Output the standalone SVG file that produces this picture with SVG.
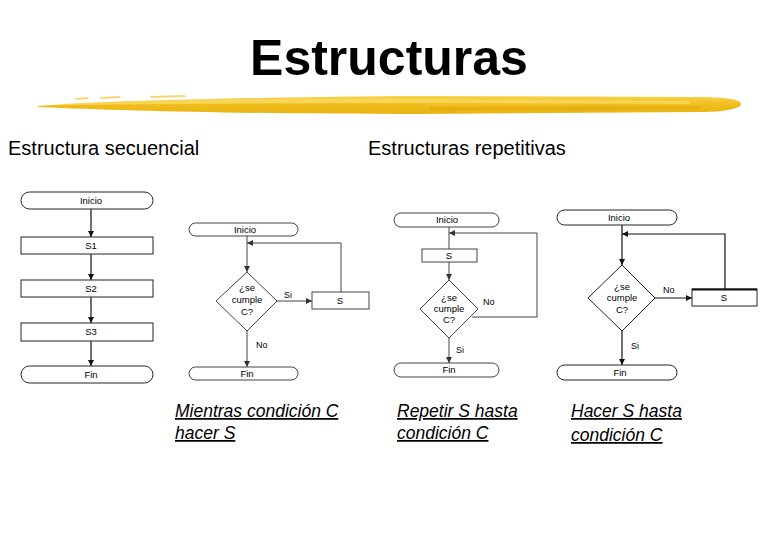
<svg xmlns="http://www.w3.org/2000/svg" width="780" height="540" viewBox="0 0 780 540">
<defs>
<marker id="ah" viewBox="0 0 10 10" refX="10" refY="5" markerWidth="6" markerHeight="6" markerUnits="userSpaceOnUse" orient="auto"><path d="M0,0 L10,5 L0,10 Z" fill="#111"/></marker>
<marker id="ahg" viewBox="0 0 10 10" refX="10" refY="5" markerWidth="6" markerHeight="6" markerUnits="userSpaceOnUse" orient="auto"><path d="M0,0 L10,5 L0,10 Z" fill="#333"/></marker>
<linearGradient id="gold" x1="0" y1="0" x2="0" y2="1"><stop offset="0" stop-color="#f7d34a"/><stop offset="0.5" stop-color="#f0bd1c"/><stop offset="1" stop-color="#e9b312"/></linearGradient>
</defs>
<style>
.t{font-family:"Liberation Sans",Arial,sans-serif;fill:#000}
.title{font-size:50px;font-weight:bold}
.h{font-size:20px}
.cap{font-size:17.5px;font-style:italic;text-decoration:underline}
.s{font-size:9.5px;text-anchor:middle}
.sl{font-size:9px}
.n{fill:#fff;stroke:#222;stroke-width:1}
.ng{fill:#fff;stroke:#444;stroke-width:1}
.c{fill:none;stroke:#111;stroke-width:1.2}
.cg{fill:none;stroke:#444;stroke-width:1}
</style>
<rect width="780" height="540" fill="#fff"/>
<text class="t title" x="389" y="75" text-anchor="middle">Estructuras</text>
<g id="brush">
<path d="M38,106 C110,101 220,98 400,96 L700,97 C722,97 741,99 741,104 C741,109 722,112 700,112 L420,114 C260,114 130,111 38,107 Z" fill="url(#gold)"/>
<path d="M60,104 C150,100 260,98 420,99 L690,101 L690,104 L420,103 C260,103 150,104 60,105 Z" fill="#f9dc66" opacity="0.7"/>
<path d="M430,107 L700,106 L700,109 L430,111 Z" fill="#e0a80c" opacity="0.6"/>
<path d="M75,98 L88,97 L89,99 L76,100 Z M100,97 L120,96 L121,98 L101,99 Z M150,96 L185,95 L186,97 L151,98 Z" fill="#f2c43a" opacity="0.7"/>
</g>
<text class="t h" x="8" y="155">Estructura secuencial</text>
<text class="t h" x="368" y="155">Estructuras repetitivas</text>

<g id="connectors">
<line class="c" x1="91" y1="209" x2="91" y2="237" marker-end="url(#ah)"/>
<line class="c" x1="91" y1="254" x2="91" y2="280" marker-end="url(#ah)"/>
<line class="c" x1="91" y1="297" x2="91" y2="323" marker-end="url(#ah)"/>
<line class="c" x1="91" y1="341" x2="91" y2="366" marker-end="url(#ah)"/>
<line class="cg" x1="247" y1="236" x2="247" y2="272" marker-end="url(#ahg)"/>
<line class="cg" x1="277" y1="301" x2="312" y2="301" marker-end="url(#ahg)"/>
<polyline class="cg" points="341,292 341,243 247,243" marker-end="url(#ahg)"/>
<line class="cg" x1="247" y1="331" x2="247" y2="367" marker-end="url(#ahg)"/>
<line class="cg" x1="449" y1="227" x2="449" y2="249"/>
<line class="cg" x1="449" y1="262" x2="449" y2="280" marker-end="url(#ahg)"/>
<polyline class="cg" points="472,317 537,317 537,233 449,233" marker-end="url(#ahg)"/>
<line class="cg" x1="449" y1="338" x2="449" y2="363" marker-end="url(#ahg)"/>
<line class="c" x1="622" y1="225" x2="622" y2="265" marker-end="url(#ah)"/>
<line class="c" x1="655" y1="298" x2="692" y2="298" stroke-width="2.2" marker-end="url(#ah)"/>
<polyline class="c" points="725,289 725,234 622,234" marker-end="url(#ah)"/>
<line class="c" x1="622" y1="331" x2="622" y2="365" marker-end="url(#ah)"/>
</g>

<g id="d1-inicio"><rect class="n" x="21" y="192" width="132" height="17" rx="8.5"/><text class="t s" x="91" y="204">Inicio</text></g>
<g id="d1-s1"><rect class="n" x="21" y="237" width="132" height="17"/><text class="t s" x="91" y="249">S1</text></g>
<g id="d1-s2"><rect class="n" x="21" y="280" width="132" height="17"/><text class="t s" x="91" y="292">S2</text></g>
<g id="d1-s3"><rect class="n" x="21" y="323" width="132" height="18"/><text class="t s" x="91" y="335">S3</text></g>
<g id="d1-fin"><rect class="n" x="21" y="366" width="132" height="17" rx="8.5"/><text class="t s" x="91" y="378">Fin</text></g>

<g id="d2-inicio"><rect class="ng" x="189" y="223" width="109" height="13" rx="6.5"/><text class="t s" x="245" y="233" font-size="8">Inicio</text></g>
<g id="d2-cond"><polygon class="ng" points="247,272 277,301 247,331 216,301"/><text class="t s" x="247" y="291" font-size="8">¿se</text><text class="t s" x="247" y="303" font-size="8">cumple</text><text class="t s" x="247" y="315" font-size="8">C?</text></g>
<g id="d2-s"><rect class="ng" x="312" y="292" width="57" height="17"/><text class="t s" x="340" y="304" font-size="8">S</text></g>
<g id="d2-fin"><rect class="ng" x="189" y="367" width="109" height="13" rx="6.5"/><text class="t s" x="247" y="377" font-size="8">Fin</text></g>
<text class="t sl" x="284" y="298" font-size="8">Si</text>
<text class="t sl" x="256" y="348" font-size="8">No</text>

<g id="d3-inicio"><rect class="ng" x="394" y="213" width="105" height="14" rx="7"/><text class="t s" x="447" y="223" font-size="8">Inicio</text></g>
<g id="d3-s"><rect class="ng" x="422" y="249" width="55" height="13"/><text class="t s" x="449" y="259" font-size="8">S</text></g>
<g id="d3-cond"><polygon class="ng" points="449,280 478,309 449,338 420,309"/><text class="t s" x="449" y="301" font-size="8">¿se</text><text class="t s" x="449" y="312" font-size="8">cumple</text><text class="t s" x="449" y="323" font-size="8">C?</text></g>
<g id="d3-fin"><rect class="ng" x="394" y="363" width="105" height="14" rx="7"/><text class="t s" x="449" y="373" font-size="8">Fin</text></g>
<text class="t sl" x="483" y="305" font-size="8">No</text>
<text class="t sl" x="456" y="353" font-size="8">Si</text>

<g id="d4-inicio"><rect class="n" x="557" y="210" width="120" height="15" rx="7.5"/><text class="t s" x="619" y="221">Inicio</text></g>
<g id="d4-cond"><polygon class="n" points="622,265 655,298 622,331 588,298"/><text class="t s" x="622" y="290">¿se</text><text class="t s" x="622" y="301">cumple</text><text class="t s" x="622" y="313">C?</text></g>
<g id="d4-s"><rect class="n" x="692" y="289" width="65" height="17"/><line x1="692" y1="289.5" x2="757" y2="289.5" stroke="#111" stroke-width="2"/><text class="t s" x="724" y="301">S</text></g>
<g id="d4-fin"><rect class="n" x="557" y="365" width="120" height="15" rx="7.5"/><text class="t s" x="620" y="376">Fin</text></g>
<text class="t sl" x="663" y="293">No</text>
<text class="t sl" x="631" y="349">Si</text>

<text class="t cap" x="175" y="417">Mientras condición C</text>
<text class="t cap" x="175" y="439">hacer S</text>
<text class="t cap" x="397" y="417">Repetir S hasta</text>
<text class="t cap" x="397" y="439">condición C</text>
<text class="t cap" x="571" y="417">Hacer S hasta</text>
<text class="t cap" x="571" y="441">condición C</text>
</svg>
